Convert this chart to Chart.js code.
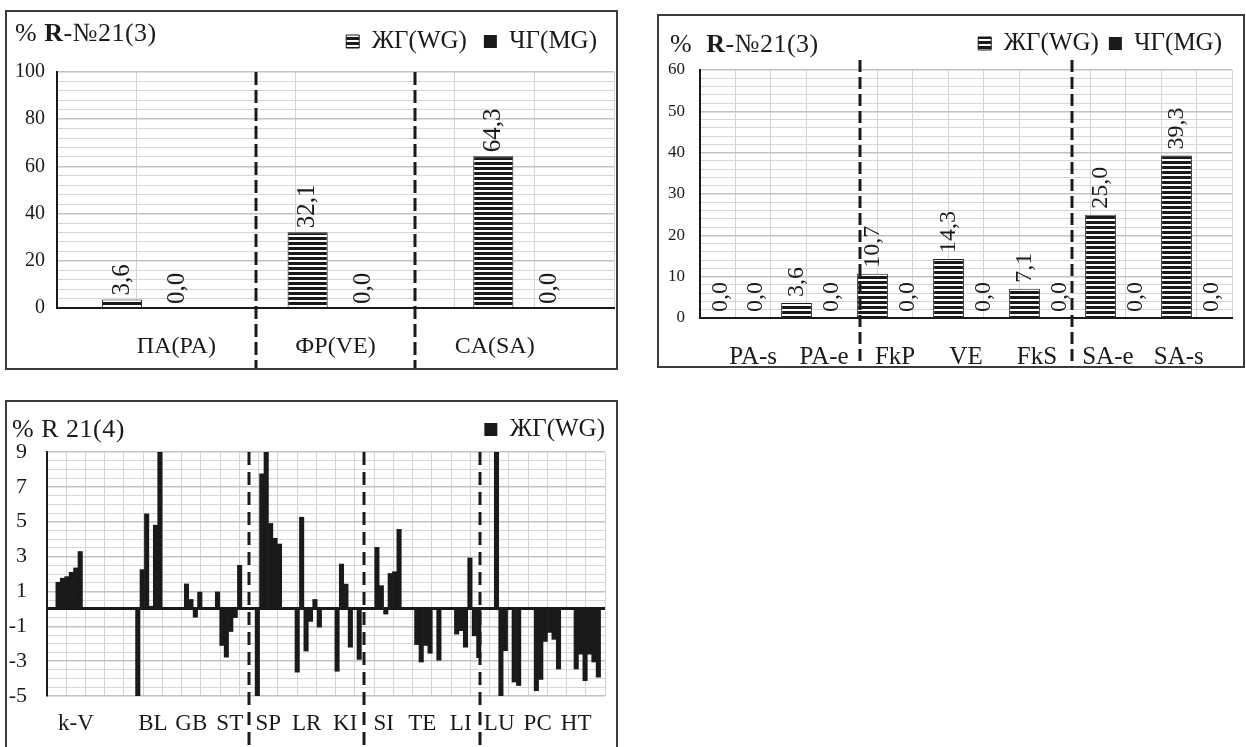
<!DOCTYPE html>
<html>
<head>
<meta charset="utf-8">
<title>R-№21 charts</title>
<script src="https://cdn.jsdelivr.net/npm/chart.js"></script>
<style>
  body { margin: 0; background: #fff; font-family: "Liberation Serif", serif; }
  .panel { position: absolute; box-sizing: border-box; border: 2px solid #3c3c3c; background: #fff; overflow: hidden; }
  .panel canvas { position: absolute; left: 0; top: 0; }
  .ttl { position: absolute; font-size: 26px; line-height: 30px; letter-spacing: 0.5px; color: #1a1a1a; white-space: nowrap; z-index: 2; }
</style>
</head>
<body>
<div class="panel" style="left:5px;top:10px;width:613px;height:360px">
  <div class="ttl" style="left:8px;top:6px">% <b>R</b>-№21(3)</div>
  <canvas id="chartA" width="609" height="356"></canvas>
</div>
<div class="panel" style="left:657px;top:14px;width:588px;height:354px">
  <div class="ttl" style="left:11px;top:13px">% &nbsp;<b>R</b>-№21(3)</div>
  <canvas id="chartB" width="584" height="350"></canvas>
</div>
<div class="panel" style="left:5px;top:400px;width:613px;height:352px">
  <div class="ttl" style="left:5px;top:12px">% R 21(4)</div>
  <canvas id="chartC" width="609" height="348"></canvas>
</div>

<script>
  // top-left: shares by type
  const catsA = ['ПА(PA)', 'ФР(VE)', 'CA(SA)'];
  const wgA = [3.6, 32.1, 64.3];
  const mgA = [0.0, 0.0, 0.0];

  // top-right: shares by subtype
  const catsB = ['PA-s', 'PA-e', 'FkP', 'VE', 'FkS', 'SA-e', 'SA-s'];
  const wgB = [0.0, 3.6, 10.7, 14.3, 7.1, 25.0, 39.3];
  const mgB = [0.0, 0.0, 0.0, 0.0, 0.0, 0.0, 0.0];

  // bottom: 9 bar slots per group
  const groupsC = ['k-V', '', 'BL', 'GB', 'ST', 'SP', 'LR', 'KI', 'SI', 'TE', 'LI', 'LU', 'PC', 'HT'];
  const wgC = [
    0, 0, 1.53, 1.76, 1.85, 2.1, 2.35, 3.29, 0,      // k-V
    0, 0, 0, 0, 0, 0, 0, 0, 0,
    0, 0, -5, 2.25, 5.45, 0.15, 4.8, 9, 0,           // BL
    0, 0, 0, 0, 1.43, 0.54, -0.48, 0.96, 0,          // GB
    0, 0, 0.97, -2.1, -2.77, -1.3, -0.5, 2.5, 0,     // ST
    0, 0, -5, 7.75, 9, 4.9, 4.05, 3.72, 0,           // SP
    0, 0, -3.63, 5.26, -2.42, -0.72, 0.54, -1.05, 0, // LR
    0, 0, -3.58, 2.57, 1.42, -2.2, 0, -2.9, 0,       // KI
    0, 0, 3.53, 1.33, -0.3, 2.03, 2.13, 4.56, 0,     // SI
    0, 0, -2.05, -3.05, -2.1, -2.55, 0, -2.95, 0,    // TE
    0, 0, -1.45, -1.25, -2.2, 2.92, -1.55, -2.8, 0,  // LI
    0, 0, 9, -5, -2.4, 0, -4.2, -4.4, 0,             // LU
    0, 0, -4.7, -4.05, -1.87, -1.35, -1.75, -3.45, 0,// PC
    0, 0, -3.45, -2.6, -4.12, -2.6, -3.05, -3.92, 0  // HT
  ];

  Chart.defaults.font.family = '"Liberation Serif", "Times New Roman", serif';
  Chart.defaults.color = '#1a1a1a';

  const INK = '#1a1a1a';
  const MINOR = '#d6d6d6';

  // horizontal stripes for the WG bars
  function stripes() {
    const c = document.createElement('canvas');
    c.width = 6; c.height = 5;
    const g = c.getContext('2d');
    g.fillStyle = '#fff'; g.fillRect(0, 0, 6, 5);
    g.fillStyle = INK; g.fillRect(0, 0, 6, 3);
    return g.createPattern(c, 'repeat');
  }
  const stripe = stripes();

  // rotated value labels above bars
  const valueLabels = {
    id: 'valueLabels',
    afterDatasetsDraw(chart, args, opts) {
      const ctx = chart.ctx;
      ctx.save();
      ctx.font = opts.size + 'px "Liberation Serif", serif';
      ctx.fillStyle = INK;
      ctx.textAlign = 'left';
      ctx.textBaseline = 'middle';
      chart.data.datasets.forEach((ds, i) => {
        chart.getDatasetMeta(i).data.forEach((bar, j) => {
          const txt = ds.data[j].toFixed(1).replace('.', ',');
          ctx.save();
          ctx.translate(bar.x, bar.y - opts.gap);
          ctx.rotate(-Math.PI / 2);
          ctx.fillText(txt, 0, 0);
          ctx.restore();
        });
      });
      ctx.restore();
    }
  };

  // dashed separators between groups
  const separators = {
    id: 'separators',
    afterDatasetsDraw(chart, args, opts) {
      const sc = chart.scales.x2, ctx = chart.ctx;
      ctx.save();
      ctx.strokeStyle = INK;
      ctx.lineWidth = 3;
      ctx.setLineDash(opts.dash);
      opts.at.forEach(v => {
        const px = Math.round(sc.getPixelForValue(v));
        ctx.beginPath();
        ctx.moveTo(px, chart.chartArea.top + opts.top);
        ctx.lineTo(px, chart.height);
        ctx.stroke();
      });
      ctx.restore();
    }
  };

  const tickVal = c => (c.tick ? c.tick.value : NaN);

  function yGrid(isMajor) {
    return {
      drawTicks: false,
      color: c => isMajor(tickVal(c)) ? '#c2c2c2' : MINOR,
      lineWidth: c => isMajor(tickVal(c)) ? 1.5 : 1
    };
  }

  function legendOpts(pad) {
    return {
      position: 'top', align: 'end',
      labels: { font: { size: 25 }, boxWidth: 13, boxHeight: 13, padding: pad, color: INK }
    };
  }

  function xGrid(skip) {
    return {
      drawTicks: false,
      color: c => skip.includes(tickVal(c)) ? 'rgba(0,0,0,0)' : '#d4d4d4',
      lineWidth: 1
    };
  }

  // empty strip between legend and plot
  function gapAxis(h) {
    return {
      type: 'linear', axis: 'x', position: 'top',
      afterFit: s => { s.height = h; },
      grid: { display: false }, ticks: { display: false }, border: { display: false }
    };
  }

  // top-left
  new Chart(document.getElementById('chartA'), {
    type: 'bar',
    data: {
      labels: catsA,
      datasets: [
        { label: 'ЖГ(WG)', data: wgA, backgroundColor: stripe, borderColor: INK, borderWidth: 1,
          categoryPercentage: 0.6, barPercentage: 0.72 },
        { label: 'ЧГ(MG)', data: mgA, backgroundColor: INK, borderWidth: 0,
          categoryPercentage: 0.6, barPercentage: 0.72 }
      ]
    },
    plugins: [valueLabels, separators],
    options: {
      responsive: false,
      animation: false,
      layout: { padding: { top: 0, right: 2, left: 0, bottom: 0 } },
      plugins: {
        legend: legendOpts(17),
        tooltip: { enabled: false },
        valueLabels: { size: 25, gap: 4 },
        separators: { at: [2, 4], dash: [13, 5], top: 0 }
      },
      scales: {
        x: { display: false },
        gap: gapAxis(8),
        x2: {
          type: 'linear', position: 'bottom', min: 0, max: 6,
          afterFit: s => { s.height = 60; },
          grid: xGrid([0, 2, 4]),
          border: { color: INK, width: 2 },
          ticks: { stepSize: 1, autoSkip: false, maxRotation: 0, padding: 24, font: { size: 24 },
            callback: v => v % 2 === 1 ? catsA[(v - 1) / 2] : '' }
        },
        y: {
          min: 0, max: 100,
          afterFit: s => { s.width = 50; },
          grid: yGrid(v => v % 20 === 0),
          border: { color: INK, width: 2 },
          ticks: { stepSize: 4, maxTicksLimit: 100, padding: 12, font: { size: 20, lineHeight: 0.3 },
            callback: v => v % 20 === 0 ? String(v) : '' }
        }
      }
    }
  });

  // top-right
  new Chart(document.getElementById('chartB'), {
    type: 'bar',
    data: {
      labels: catsB,
      datasets: [
        { label: 'ЖГ(WG)', data: wgB, backgroundColor: stripe, borderColor: INK, borderWidth: 1,
          categoryPercentage: 0.92, barPercentage: 0.88 },
        { label: 'ЧГ(MG)', data: mgB, backgroundColor: INK, borderWidth: 0,
          categoryPercentage: 0.92, barPercentage: 0.88 }
      ]
    },
    plugins: [valueLabels, separators],
    options: {
      responsive: false,
      animation: false,
      layout: { padding: { top: 5, right: 11, left: 0, bottom: 0 } },
      plugins: {
        legend: legendOpts(10),
        tooltip: { enabled: false },
        valueLabels: { size: 24, gap: 6 },
        separators: { at: [4, 10], dash: [12, 5], top: -10 }
      },
      scales: {
        x: { display: false },
        gap: gapAxis(4),
        x2: {
          type: 'linear', position: 'bottom', min: 0, max: 14,
          afterFit: s => { s.height = 48; },
          grid: xGrid([0, 4, 10]),
          border: { color: INK, width: 2 },
          ticks: { stepSize: 1, autoSkip: false, maxRotation: 0, padding: 24, font: { size: 25 },
            callback: v => v % 2 === 1 ? catsB[(v - 1) / 2] : '' }
        },
        y: {
          min: 0, max: 60,
          afterFit: s => { s.width = 41; },
          grid: yGrid(v => v % 10 === 0),
          border: { color: INK, width: 2 },
          ticks: { stepSize: 2, maxTicksLimit: 100, padding: 15, font: { size: 17, lineHeight: 0.3 },
            callback: v => v % 10 === 0 ? String(v) : '' }
        }
      }
    }
  });

  // bottom
  const yMinC = -5, yMaxC = 9, yStepC = 0.5;
  const isOdd = v => Number.isInteger(v) && Math.abs(v) % 2 === 1;
  new Chart(document.getElementById('chartC'), {
    type: 'bar',
    data: {
      labels: wgC.map((_, i) => String(i)),
      datasets: [
        { label: 'ЖГ(WG)', data: wgC, backgroundColor: INK, borderWidth: 0,
          categoryPercentage: 1, barPercentage: 1 }
      ]
    },
    plugins: [separators],
    options: {
      responsive: false,
      animation: false,
      layout: { padding: { top: 15, right: 11, left: 0, bottom: 0 } },
      plugins: {
        legend: legendOpts(0),
        tooltip: { enabled: false },
        separators: { at: [10, 16, 22], dash: [13, 7], top: 0 }
      },
      scales: {
        x: { display: false },
        x2: {
          type: 'linear', position: 'bottom', min: 0, max: groupsC.length * 2,
          afterFit: s => { s.height = 54; },
          grid: xGrid([0]),
          border: { display: false },
          ticks: { stepSize: 1, autoSkip: false, maxRotation: 0, padding: 14, font: { size: 23 },
            callback: v => v % 2 === 1 ? groupsC[(v - 1) / 2] : '' }
        },
        y: {
          min: yMinC, max: yMaxC,
          afterFit: s => { s.width = 40; },
          afterBuildTicks: s => {
            const t = [];
            for (let k = 0; k <= (yMaxC - yMinC) / yStepC; k++) t.push({ value: yMinC + k * yStepC });
            s.ticks = t;
          },
          grid: {
            drawTicks: false,
            color: c => tickVal(c) === 0 ? INK : (isOdd(tickVal(c)) ? '#c2c2c2' : MINOR),
            lineWidth: c => tickVal(c) === 0 ? 3 : (isOdd(tickVal(c)) ? 1.5 : 1)
          },
          border: { color: INK, width: 2 },
          ticks: { autoSkip: false, padding: 20, font: { size: 22, lineHeight: 0.3 },
            callback: v => isOdd(v) ? String(v) : '' }
        }
      }
    }
  });
</script>
</body>
</html>
